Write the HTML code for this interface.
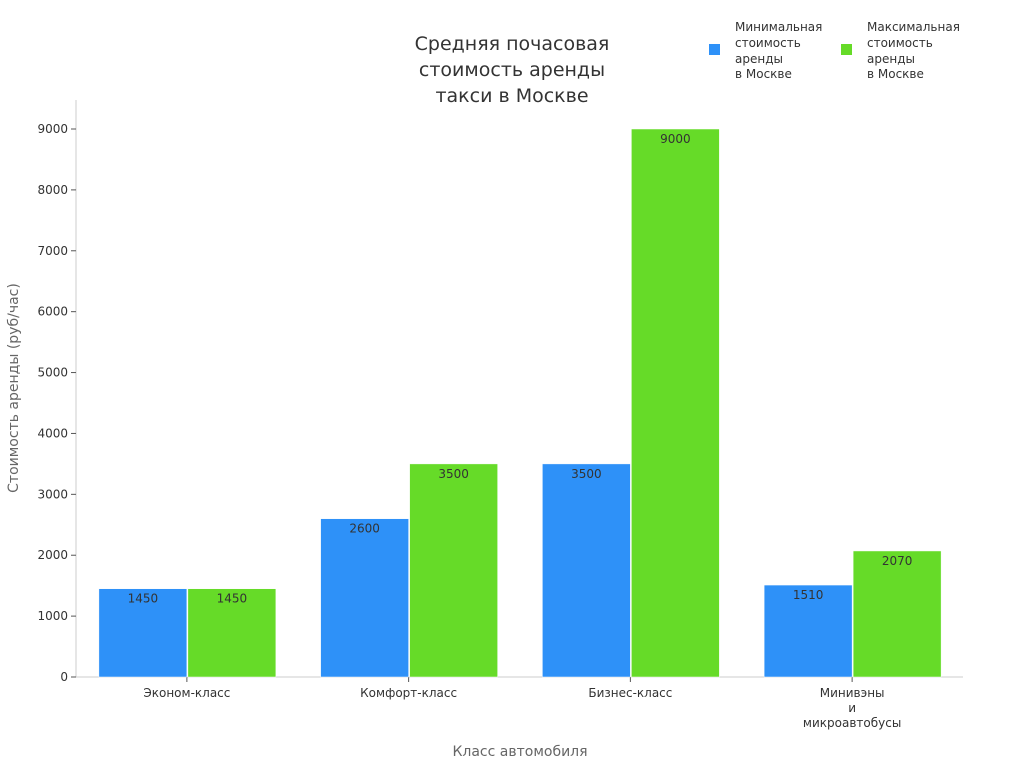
<!DOCTYPE html>
<html><head><meta charset="utf-8"><style>
body{margin:0;background:#fff;font-family:"DejaVu Sans","Liberation Sans",sans-serif}
svg text{font-family:"DejaVu Sans","Liberation Sans",sans-serif}
</style></head><body>
<svg id="c" width="1024" height="768" xmlns="http://www.w3.org/2000/svg">
<text x="512" y="50" text-anchor="middle" font-size="19" fill="#333">Средняя почасовая</text>
<text x="512" y="76" text-anchor="middle" font-size="19" fill="#333">стоимость аренды</text>
<text x="512" y="102" text-anchor="middle" font-size="19" fill="#333">такси в Москве</text>
<g>
<rect x="709" y="44" width="11" height="11" fill="#2e91f8"/>
<text font-size="12" fill="#333"><tspan x="735" y="31">Минимальная</tspan><tspan x="735" y="47">стоимость</tspan><tspan x="735" y="63">аренды</tspan><tspan x="735" y="78">в Москве</tspan></text>
<rect x="841" y="44" width="11" height="11" fill="#66db28"/>
<text font-size="12" fill="#333"><tspan x="867" y="31">Максимальная</tspan><tspan x="867" y="47">стоимость</tspan><tspan x="867" y="63">аренды</tspan><tspan x="867" y="78">в Москве</tspan></text>
</g>
<text transform="translate(18,388) rotate(-90)" text-anchor="middle" font-size="14" fill="#666">Стоимость аренды (руб/час)</text>
<text x="520" y="756" text-anchor="middle" font-size="14" fill="#666">Класс автомобиля</text>
<g id="plot"></g>
</svg>
<script>
const categories=[["Эконом-класс"],["Комфорт-класс"],["Бизнес-класс"],["Минивэны","и","микроавтобусы"]];
const minValues=[1450,2600,3500,1510];
const maxValues=[1450,3500,9000,2070];
const yTicks=[0,1000,2000,3000,4000,5000,6000,7000,8000,9000];
const NS="http://www.w3.org/2000/svg";
const g=document.getElementById('plot');
const y0=677,yTop=129,x0=76,x1=963;
const yScale=v=>y0-(v/9000)*(y0-yTop);
const step=(x1-x0)/categories.length;
const xCenter=i=>x0+step*(i+0.5);
const bw=88;
function el(t,a){const e=document.createElementNS(NS,t);for(const k in a)e.setAttribute(k,a[k]);g.appendChild(e);return e;}
let ax=el('line',{x1:x0,y1:100,x2:x0,y2:y0,stroke:'#ccc'});


let bx=el('line',{x1:x0,y1:y0,x2:x1,y2:y0,stroke:'#ccc'});


yTicks.forEach(v=>{
  const y=yScale(v);
  let t=el('line',{x1:x0-5,y1:y,x2:x0,y2:y,stroke:'#555'});
  
  
  let l=el('text',{x:x0-8,y:y+4,'text-anchor':'end','font-size':12,fill:'#333'});
  
  
  l.textContent=v;
});
categories.forEach((c,i)=>{
  const cx=xCenter(i);
  let t=el('line',{x1:cx,y1:y0,x2:cx,y2:y0+5,stroke:'#555'});
  
  
  c.forEach((s,j)=>{
    let l=el('text',{x:cx,y:697+j*15,'text-anchor':'middle','font-size':12,fill:'#333'});
    
    
    l.textContent=s;
  });
  [[minValues[i],cx-bw,'#2e91f8','bar-min'],[maxValues[i],cx+1,'#66db28','bar-max']].forEach(([v,x,col,n])=>{
    const y=yScale(v);
    let r=el('rect',{x:x,y:y,width:bw,height:y0-y,fill:col,stroke:'#fff','stroke-width':0.5});
    
    
    let l=el('text',{x:x+bw/2,y:y+14,'text-anchor':'middle','font-size':12,fill:'#333'});
    
    
    l.textContent=v;
  });
});
</script>
</body></html>
